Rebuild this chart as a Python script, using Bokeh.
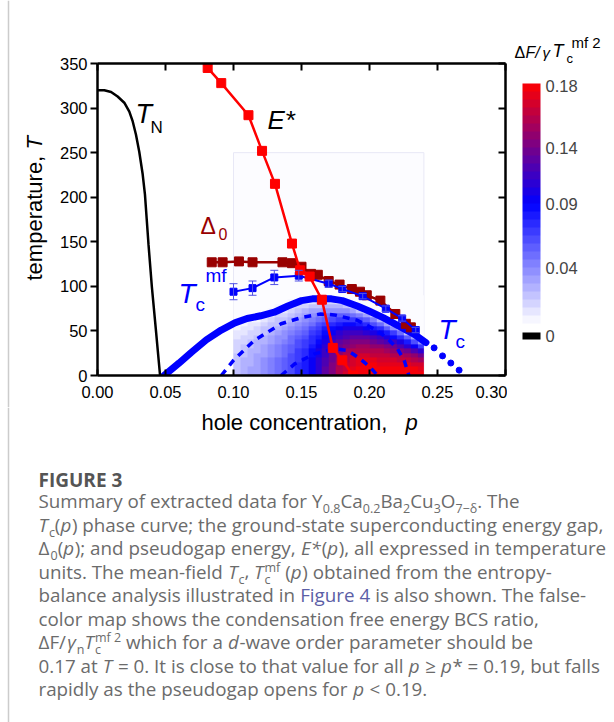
import numpy as np
from bokeh.plotting import figure
from bokeh.layouts import row, column
from bokeh.models import (Range1d, LinearAxis, FixedTicker, Label, ColorBar, LinearColorMapper,
                          CustomJSTickFormatter, PrintfTickFormatter, Whisker, Span,
                          ColumnDataSource, TeeHead)
from bokeh.embed import file_html
from bokeh.resources import INLINE

# ---------------- data ----------------
x_ticks = [0.0, 0.05, 0.10, 0.15, 0.20, 0.25, 0.30]
y_ticks = [0, 50, 100, 150, 200, 250, 300, 350]

tn_p = [0.000, 0.005, 0.010, 0.0148, 0.0197, 0.0234, 0.0259, 0.0283, 0.0307, 0.0332, 0.0349, 0.0362, 0.0375, 0.040, 0.043, 0.046]
tn_T = [320, 320, 318, 313, 306, 296, 285, 270, 251, 226, 203, 175, 147, 99, 50, 0]

estar_p = [0.081, 0.091, 0.111, 0.121, 0.1305, 0.143, 0.149, 0.156, 0.165, 0.173, 0.180, 0.188]
estar_T = [345, 328, 292, 252, 215, 148, 118, 111, 85, 31, 17, 0]

d0_p = [0.084, 0.092, 0.104, 0.114, 0.136, 0.143, 0.150, 0.157, 0.162, 0.170, 0.178, 0.187, 0.193, 0.198, 0.208, 0.219, 0.2267, 0.2304]
d0_T = [127, 127, 128, 127, 127, 126, 122, 114, 113, 106, 102, 97, 94, 90, 84, 69, 58, 54]

tcmf_p = [0.100, 0.114, 0.130, 0.148, 0.170, 0.180, 0.195, 0.212, 0.224, 0.234]
tcmf_T = [94, 98, 110, 112, 103, 97, 89, 75, 64, 51]
tcmf_err = [9, 8, 8, 6, 4, 3, 3, 3, 3, 3]

tc_p = [0.049, 0.060, 0.069, 0.080, 0.091, 0.101, 0.110, 0.120, 0.130, 0.140, 0.150, 0.158, 0.165, 0.172, 0.180, 0.191, 0.200, 0.210, 0.221, 0.233, 0.2415]
tc_T = [0, 14, 26, 40, 51, 59, 64, 67, 71, 78, 84, 86, 86, 86, 84, 78, 72, 65, 56, 46, 37]
tc_ext_p = [0.2475, 0.2537, 0.2598, 0.2659]
tc_ext_T = [31, 22, 14, 6]

outer_p = [0.091, 0.100, 0.115, 0.135, 0.150, 0.164, 0.174, 0.191, 0.206, 0.2136, 0.2206, 0.2255, 0.229]
outer_T = [0, 17, 39, 58, 65, 69, 68, 62, 50, 41, 30, 17, 0]
inner_p = [0.135, 0.145, 0.159, 0.174, 0.184, 0.192, 0.200, 0.206]
inner_T = [0, 13, 24, 30, 28, 20, 10, 0]

# false-colour map dF/gamma Tc^2 : 28 p cells over 0.10..0.24, 18 T cells over 0..90 K, bottom row first
heat_p0, heat_p1, heat_T1, heat_box_top = 0.10, 0.24, 90, 250
heat_vals = [
    [.023, .027, .031, .035, .040, .046, .052, .058, .066, .075, .084, .095, .108, .122, .137, .152, .163, .172, .178, .180, .180, .180, .180, .180, .180, .180, .179, .179],
    [.023, .027, .031, .035, .040, .046, .052, .058, .065, .074, .083, .094, .107, .121, .136, .151, .162, .171, .176, .178, .178, .178, .178, .177, .177, .176, .175, .174],
    [.022, .026, .030, .034, .039, .045, .051, .057, .065, .073, .082, .093, .106, .120, .134, .149, .159, .168, .173, .175, .175, .174, .173, .172, .171, .169, .167, .164],
    [.021, .025, .029, .033, .038, .044, .049, .055, .063, .072, .081, .091, .104, .117, .131, .146, .156, .164, .169, .170, .169, .168, .167, .165, .162, .159, .155, .149],
    [.020, .023, .027, .031, .036, .042, .048, .054, .061, .070, .078, .089, .101, .114, .128, .141, .151, .159, .163, .164, .162, .160, .158, .155, .151, .145, .139, .128],
    [.018, .022, .026, .029, .034, .040, .046, .051, .059, .067, .076, .086, .097, .110, .123, .136, .145, .152, .156, .156, .154, .151, .147, .142, .137, .128, .118, .103],
    [.016, .020, .023, .027, .032, .037, .043, .049, .056, .064, .072, .082, .093, .105, .118, .130, .138, .144, .147, .146, .143, .139, .134, .127, .119, .107, .094, .072],
    [.013, .017, .021, .025, .029, .035, .040, .046, .053, .061, .068, .078, .088, .100, .112, .122, .130, .135, .137, .135, .131, .125, .118, .110, .099, .083, .065, .037],
    [.011, .014, .018, .022, .026, .031, .037, .042, .049, .057, .064, .073, .083, .094, .104, .114, .120, .125, .125, .122, .117, .110, .101, .090, .076, .055, .033, 0.0],
    [.008, .011, .015, .018, .023, .028, .033, .038, .045, .052, .059, .067, .077, .086, .096, .105, .110, .113, .112, .108, .102, .092, .081, .067, .050, .024, 0.0, 0.0],
    [.004, .008, .011, .015, .019, .023, .028, .034, .040, .047, .053, .061, .070, .079, .087, .094, .098, .100, .097, .092, .084, .073, .059, .042, .022, 0.0, 0.0, 0.0],
    [0.0, .004, .007, .011, .014, .019, .024, .029, .035, .041, .047, .054, .062, .070, .077, .082, .085, .085, .081, .074, .065, .051, .035, .015, 0.0, 0.0, 0.0, 0.0],
    [0.0, 0.0, .003, .006, .010, .014, .019, .023, .029, .035, .041, .047, .054, .060, .066, .070, .071, .070, .064, .055, .044, .028, .008, 0.0, 0.0, 0.0, 0.0, 0.0],
    [0.0, 0.0, 0.0, .002, .005, .009, .013, .018, .023, .029, .033, .039, .044, .050, .055, .056, .055, .053, .045, .034, .022, .003, 0.0, 0.0, 0.0, 0.0, 0.0, 0.0],
    [0.0, 0.0, 0.0, 0.0, 0.0, .003, .007, .012, .017, .022, .026, .031, .035, .039, .042, .041, .039, .034, .024, .012, 0.0, 0.0, 0.0, 0.0, 0.0, 0.0, 0.0, 0.0],
    [0.0, 0.0, 0.0, 0.0, 0.0, 0.0, .001, .005, .010, .014, .017, .021, .024, .027, .028, .026, .021, .015, .002, 0.0, 0.0, 0.0, 0.0, 0.0, 0.0, 0.0, 0.0, 0.0],
    [0.0, 0.0, 0.0, 0.0, 0.0, 0.0, 0.0, 0.0, .002, .006, .008, .012, .013, .015, .014, .009, .002, 0.0, 0.0, 0.0, 0.0, 0.0, 0.0, 0.0, 0.0, 0.0, 0.0, 0.0],
    [0.0, 0.0, 0.0, 0.0, 0.0, 0.0, 0.0, 0.0, 0.0, 0.0, 0.0, .001, .001, .001, 0.0, 0.0, 0.0, 0.0, 0.0, 0.0, 0.0, 0.0, 0.0, 0.0, 0.0, 0.0, 0.0, 0.0],
]
cbar_ticks = [0.042, 0.09, 0.132, 0.178]
cbar_labels = ["0.04", "0.09", "0.14", "0.18"]

# ---------------- layout constants (canvas pixels) ----------------
W, H = 614, 722
LW = 55            # left strip width
RX = 507           # x where the right strip starts
MH = 407           # height of the top row
FL, FR, FT, FB = 97, 505, 63, 375     # frame of the main plot
AX_FONT = "Liberation Sans"
BASE_K = 0.4       # empirical correction: rendered text sits this many font-sizes low

# palette: white -> blue -> red in 30 steps
pal = []
for i in range(30):
    v = (i + 0.5) / 30.0
    if v < 0.5:
        s = v / 0.5
        c = int(round(255 * (1 - s)))
        pal.append("#%02x%02x%02x" % (c, c, 255))
    else:
        s = (v - 0.5) / 0.5
        pal.append("#%02x%02x%02x" % (int(round(255 * s)), 0, int(round(255 * (1 - s)))))

def clean(f):
    f.xgrid.visible = False
    f.ygrid.visible = False
    f.outline_line_color = None
    f.background_fill_color = "white"
    f.border_fill_color = "white"
    return f

def aux(w, h):
    f = figure(width=w, height=h, x_range=Range1d(0, w), y_range=Range1d(h, 0), title=None,
               output_backend="svg", toolbar_location=None, min_border=0,
               x_axis_location=None, y_axis_location=None, frame_align=False)
    return clean(f)

# ---------------- main plot ----------------
p = figure(width=RX - LW, height=MH, x_range=Range1d(0, 0.30), y_range=Range1d(0, 350), title=None,
           output_backend="svg", toolbar_location=None, frame_align=False,
           min_border_left=FL - LW, min_border_right=RX - FR, min_border_top=FT, min_border_bottom=MH - FB)
clean(p)

def style_axis(ax, tin, tout):
    ax.axis_line_width = 2.5
    ax.axis_line_color = "black"
    ax.major_tick_line_width = 2
    ax.major_tick_line_color = "black"
    ax.minor_tick_line_color = None
    ax.major_tick_in = tin
    ax.major_tick_out = tout
    ax.major_label_text_font = AX_FONT
    ax.major_label_text_font_size = "16.5px"
    ax.major_label_text_color = "black"

xa = p.xaxis[0]
xa.ticker = FixedTicker(ticks=x_ticks)
xa.formatter = PrintfTickFormatter(format="%.2f")
style_axis(xa, 6, 0)
xa.major_label_standoff = 10
ya = p.yaxis[0]
ya.ticker = FixedTicker(ticks=y_ticks)
style_axis(ya, 0, 7)
ya.major_label_standoff = 3

for place, tk in (("above", x_ticks), ("right", y_ticks)):
    ax = LinearAxis(ticker=FixedTicker(ticks=tk), formatter=CustomJSTickFormatter(code="return ''"))
    style_axis(ax, 7, 0)
    ax.major_label_standoff = 0
    ax.major_label_text_font_size = "0px"
    p.add_layout(ax, place)

# heat map
mapper = LinearColorMapper(palette=pal, low=0.0005, high=0.18, low_color="#fcfcff")
p.quad(left=[heat_p0], right=[heat_p1], bottom=[0], top=[heat_box_top],
       fill_color="#fcfcff", line_color="#e8e8f6", line_width=1)
p.image(image=[np.array(heat_vals, dtype=float)], x=heat_p0, y=0, dw=heat_p1 - heat_p0, dh=heat_T1,
        color_mapper=mapper)

# contours
p.line(outer_p, outer_T, line_color="#0000ff", line_width=3.5, line_dash="7 6")
p.line(inner_p, inner_T, line_color="#0000ff", line_width=3.5, line_dash="7 6")

# Tc
p.line(tc_p, tc_T, line_color="#0000ff", line_width=7, line_cap="round", line_join="round")
p.scatter(tc_ext_p, tc_ext_T, size=6, marker="circle", fill_color="#0000ff", line_color="#0000ff")

# T_N
p.line(tn_p, tn_T, line_color="black", line_width=2.5)

# Delta_0
p.line(d0_p, d0_T, line_color="#990000", line_width=2.5)
p.scatter(d0_p, d0_T, marker="square", size=9, fill_color="#990000", line_color="#990000")

# Tc^mf
src = ColumnDataSource(dict(p=tcmf_p, T=tcmf_T,
                            lo=[t - e for t, e in zip(tcmf_T, tcmf_err)],
                            hi=[t + e for t, e in zip(tcmf_T, tcmf_err)]))
p.line("p", "T", source=src, line_color="#0000ff", line_width=2)
p.scatter("p", "T", source=src, marker="square", size=7, fill_color="#0000ff", line_color="#0000ff")
p.add_layout(Whisker(source=src, base="p", lower="lo", upper="hi", line_color="#5050e6", line_width=1,
                     level="annotation",
                     upper_head=TeeHead(size=8, line_color="#5050e6", line_width=1),
                     lower_head=TeeHead(size=8, line_color="#5050e6", line_width=1)))

# E*
p.line(estar_p, estar_T, line_color="#ff0000", line_width=2.5)
p.scatter(estar_p, estar_T, marker="square", size=9, fill_color="#ff0000", line_color="#ff0000")

def plab(text, X, Y, size, color="black", italic=False):
    Y = Y - BASE_K * size
    p.add_layout(Label(x=X - FL, y=FB - Y, x_units="screen", y_units="screen", text=text,
                       text_font=AX_FONT, text_font_size="%gpx" % size, text_color=color,
                       text_font_style="italic" if italic else "normal",
                       text_align="left", text_baseline="alphabetic"))

plab("T", 135, 124, 27, italic=True)
plab("N", 150, 134, 17)
plab("E*", 267, 130, 26, italic=True)
plab("\u0394", 200, 235, 23, color="#990000")
plab("0", 218, 240, 16, color="#990000")
plab("T", 178, 304, 28, color="#0000ff", italic=True)
plab("c", 195, 312, 19, color="#0000ff")
plab("mf", 205, 283, 19, color="#0000ff")
plab("T", 438, 340, 28, color="#0000ff", italic=True)
plab("c", 455, 349, 19, color="#0000ff")

# ---------------- helper for text in the strips ----------------
def lab(f, ox, oy, text, X, Y, size, color="black", italic=False, font=AX_FONT, angle=0.0, bold=False):
    style = "italic" if italic else ("bold" if bold else "normal")
    if angle:
        X = X - BASE_K * size
    else:
        Y = Y - BASE_K * size
    f.add_layout(Label(x=X - ox, y=Y - oy, text=text, text_font=font, text_font_size="%gpx" % size,
                       text_color=color, text_font_style=style, text_align="left",
                       text_baseline="alphabetic", angle=angle))

# ---------------- left strip: y title ----------------
left = aux(LW, MH)
left.add_layout(Span(location=8, dimension="height", line_color="#cccccc", line_width=1.5))
lab(left, 0, 0, "temperature,", 43, 280, 22, angle=np.pi / 2)
lab(left, 0, 0, "T", 43, 149, 22, italic=True, angle=np.pi / 2)

# ---------------- right strip: colour bar ----------------
rs = aux(W - RX, MH)
cb = ColorBar(color_mapper=LinearColorMapper(palette=pal, low=0, high=0.18),
              ticker=FixedTicker(ticks=cbar_ticks),
              major_label_overrides={t: s for t, s in zip(cbar_ticks, cbar_labels)},
              width=18, height=240, location=(522 - RX, MH - 323), padding=0,
              major_tick_line_color=None, minor_tick_line_color=None, bar_line_color=None,
              major_label_text_font=AX_FONT, major_label_text_font_size="16.5px",
              label_standoff=5, background_fill_color=None, border_line_color=None)
rs.add_layout(cb)
cb0 = ColorBar(color_mapper=LinearColorMapper(palette=["#000000"], low=0, high=1),
               ticker=FixedTicker(ticks=[0.5]), major_label_overrides={0.5: "0"},
               width=18, height=7, location=(522 - RX, MH - 339), padding=0,
               major_tick_line_color=None, minor_tick_line_color=None, bar_line_color=None,
               major_label_text_font=AX_FONT, major_label_text_font_size="16.5px",
               label_standoff=5, background_fill_color=None, border_line_color=None)
rs.add_layout(cb0)
lab(rs, RX, 0, "\u0394", 514, 58, 16)
lab(rs, RX, 0, "F/", 525, 58, 16, italic=True)
lab(rs, RX, 0, "\u03b3", 542, 58, 15, italic=True)
lab(rs, RX, 0, "T", 552, 58, 18, italic=True)
lab(rs, RX, 0, "c", 566, 63, 13)
lab(rs, RX, 0, "mf 2", 571, 48, 15)

# ---------------- bottom strip: x title + caption ----------------
BH = H - MH
bot = aux(W, BH)
bot.add_layout(Span(location=8, dimension="height", line_color="#cccccc", line_width=1.5))
lab(bot, 0, MH, "hole concentration,", 201, 431, 22)
lab(bot, 0, MH, "p", 405, 431, 22, italic=True)

CAP_FONT = "Open Sans"
CAP_SIZE = 18.8
SUB_SIZE = 12.5
CAP_COL = "#6b6b6b"
LINK_COL = "#5b5ea6"
CW = {' ': .26, 'a': .556, 'b': .613, 'c': .476, 'd': .613, 'e': .561, 'f': .339, 'g': .548, 'h': .614,
      'i': .253, 'j': .253, 'k': .525, 'l': .253, 'm': .93, 'n': .614, 'o': .604, 'p': .613, 'q': .613,
      'r': .408, 's': .477, 't': .353, 'u': .614, 'v': .501, 'w': .778, 'x': .524, 'y': .502, 'z': .477,
      'A': .633, 'B': .648, 'C': .631, 'D': .729, 'E': .556, 'F': .516, 'G': .728, 'H': .738, 'I': .279,
      'L': .519, 'M': .903, 'N': .754, 'O': .779, 'P': .602, 'R': .618, 'S': .549, 'T': .553, 'U': .728,
      'Y': .56, '.': .266, ',': .25, ';': .266, ':': .266, '(': .296, ')': .296, '-': .322, '*': .551,
      '=': .572, '<': .572, '\u2265': .572, '\u0394': .64, '\u03b4': .6, '\u03b3': .51, '/': .372,
      '\u2212': .572}

def tw(s, size):
    return sum(CW.get(ch, .572 if ch.isdigit() else .55) for ch in s) * size

def cap_line(segs, X0, Y):
    x = X0
    for kind, txt in segs:
        if kind in ("n", "i", "link"):
            col = LINK_COL if kind == "link" else CAP_COL
            lead = txt[:len(txt) - len(txt.lstrip())]
            if txt.strip():
                lab(bot, 0, MH, txt.strip(), x + tw(lead, CAP_SIZE), Y, CAP_SIZE,
                    color=col, italic=(kind == "i"), font=CAP_FONT)
            x += tw(txt, CAP_SIZE)
        elif kind == "sub":
            lab(bot, 0, MH, txt, x, Y + 4.5, SUB_SIZE, color=CAP_COL, font=CAP_FONT)
            x += tw(txt, SUB_SIZE)
        elif kind == "sup":
            lab(bot, 0, MH, txt, x, Y - 7.5, SUB_SIZE, color=CAP_COL, font=CAP_FONT)
            x += tw(txt, SUB_SIZE)
        elif kind == "stack":
            sup, sub = txt
            lab(bot, 0, MH, sup, x, Y - 7.5, SUB_SIZE, color=CAP_COL, font=CAP_FONT)
            lab(bot, 0, MH, sub, x, Y + 4.5, SUB_SIZE, color=CAP_COL, font=CAP_FONT)
            x += max(tw(sup, SUB_SIZE), tw(sub, SUB_SIZE))

CX = 38
lab(bot, 0, MH, "FIGURE 3", CX, 487, 19, color="#555555", font=CAP_FONT, bold=True)
caption = [
    [("n", "Summary of extracted data for Y"), ("sub", "0.8"), ("n", "Ca"), ("sub", "0.2"), ("n", "Ba"),
     ("sub", "2"), ("n", "Cu"), ("sub", "3"), ("n", "O"), ("sub", "7\u2212\u03b4"), ("n", ". The")],
    [("i", "T"), ("sub", "c"), ("n", "("), ("i", "p"), ("n", ") phase curve; the ground-state superconducting energy gap,")],
    [("n", "\u0394"), ("sub", "0"), ("n", "("), ("i", "p"), ("n", "); and pseudogap energy, "), ("i", "E*"),
     ("n", "("), ("i", "p"), ("n", "), all expressed in temperature")],
    [("n", "units. The mean-field "), ("i", "T"), ("sub", "c"), ("n", ", "), ("i", "T"), ("stack", ("mf", "c")),
     ("n", " ("), ("i", "p"), ("n", ") obtained from the entropy-")],
    [("n", "balance analysis illustrated in "), ("link", "Figure 4"), ("n", " is also shown. The false-")],
    [("n", "color map shows the condensation free energy BCS ratio,")],
    [("n", "\u0394F/"), ("i", "\u03b3"), ("sub", "n"), ("i", "T"), ("stack", ("mf 2", "c")),
     ("n", " which for a "), ("i", "d"), ("n", "-wave order parameter should be")],
    [("n", "0.17 at "), ("i", "T"), ("n", " = 0. It is close to that value for all "), ("i", "p"), ("n", " \u2265 "),
     ("i", "p"), ("n", "* = 0.19, but falls")],
    [("n", "rapidly as the pseudogap opens for "), ("i", "p"), ("n", " < 0.19.")],
]
for k, segs in enumerate(caption):
    cap_line(segs, CX, 508.5 + 23.5 * k)

layout = column(row(left, p, rs, spacing=0), bot, spacing=0)
open("out.html", "w").write(file_html(layout, INLINE))
